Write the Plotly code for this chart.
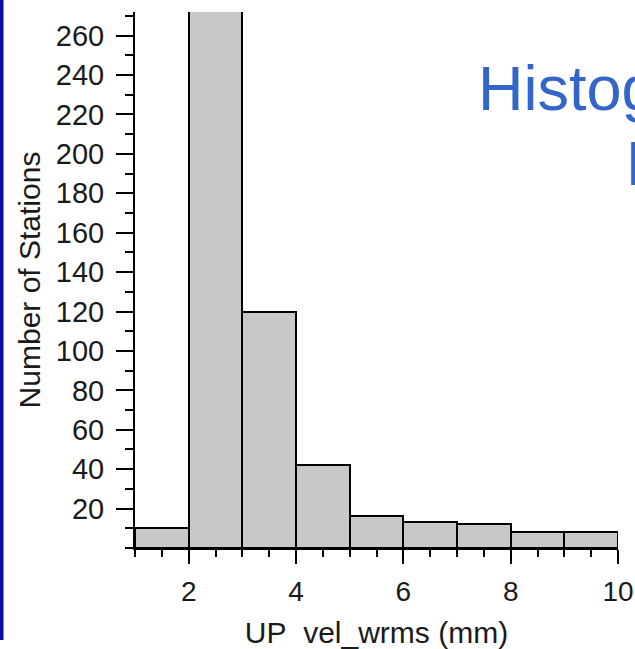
import plotly.graph_objects as go

# Histogram data
bin_edges = [1, 2, 3, 4, 5, 6, 7, 8, 9, 10]
counts = [10, 310, 120, 42, 16, 13, 12, 8, 8]   # 2-3 bin exceeds the visible axis (clipped)
y_tick_vals = [20, 40, 60, 80, 100, 120, 140, 160, 180, 200, 220, 240, 260]
x_tick_vals = [2, 4, 6, 8, 10]

x_title = "UP\u00a0\u00a0vel_wrms (mm)"
y_title = "Number of Stations"
slide_title_1 = "Histogram"
slide_title_2 = "D"

centers = [(a + b) / 2 for a, b in zip(bin_edges[:-1], bin_edges[1:])]
widths = [b - a for a, b in zip(bin_edges[:-1], bin_edges[1:])]

FONT = "Liberation Sans, Arial, sans-serif"
W, H = 635, 649
L, R, T, B = 135, 17, 12, 101

fig = go.Figure(go.Bar(
    x=centers, y=counts, width=widths,
    marker=dict(color="#c8c8c8", line=dict(color="#000000", width=2)),
    hoverinfo="skip",
))

pw = W - L - R
ph = H - T - B

fig.update_layout(
    width=W, height=H,
    margin=dict(l=L, r=R, t=T, b=B, pad=0),
    paper_bgcolor="white", plot_bgcolor="white",
    showlegend=False,
    bargap=0,
    font=dict(family=FONT, color="#1a1a1a", size=28),
    xaxis=dict(
        range=[1, 10], tickvals=x_tick_vals, ticks="outside", ticklen=14, tickwidth=2,
        tickcolor="#000", showline=True, linecolor="#000", linewidth=2,
        showgrid=False, zeroline=False, ticklabelstandoff=3,
        minor=dict(dtick=0.5, tick0=1, ticks="outside", ticklen=7, tickwidth=2, tickcolor="#000", showgrid=False),
        title=dict(text=x_title, font=dict(size=30), standoff=16),
        automargin=False,
    ),
    yaxis=dict(
        range=[0, 272], tickvals=y_tick_vals, ticks="outside", ticklen=17, tickwidth=2,
        tickcolor="#000", showline=True, linecolor="#000", linewidth=2,
        showgrid=False, zeroline=False, ticklabelstandoff=6,
        tickfont=dict(size=29),
        minor=dict(dtick=10, tick0=0, ticks="outside", ticklen=8, tickwidth=2, tickcolor="#000", showgrid=False),
        title=dict(text=y_title, font=dict(size=30), standoff=6),
        automargin=False,
    ),
)

# slide title fragments (clipped by the window edge, as in the reference)
fig.add_annotation(text=slide_title_1, xref="paper", yref="paper",
                   x=(476 - L) / pw, y=(H - B - 88) / ph, xanchor="left", yanchor="middle",
                   showarrow=False, font=dict(size=63, color="#3366cc", family=FONT))
fig.add_annotation(text=slide_title_2, xref="paper", yref="paper",
                   x=(624 - L) / pw, y=(H - B - 163) / ph, xanchor="left", yanchor="middle",
                   showarrow=False, font=dict(size=63, color="#3366cc", family=FONT))

# slide border strip on the left
fig.add_shape(type="rect", xref="paper", yref="paper",
              x0=(0 - L) / pw, x1=(3.5 - L) / pw, y0=(H - B - 640) / ph, y1=(H - B + 5) / ph,
              fillcolor="#0a0aa8", line=dict(width=0), layer="above")

fig.write_html("out.html")
